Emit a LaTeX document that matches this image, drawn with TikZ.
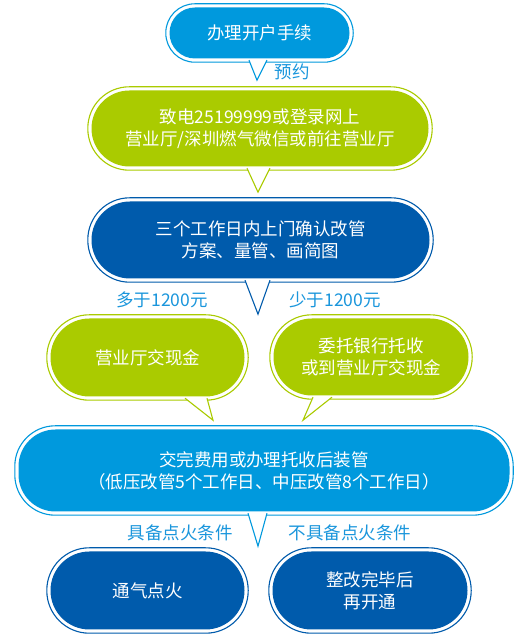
\documentclass[tikz,border=0pt]{standalone}
\usepackage{fontspec}
\newfontfamily\cjk{Noto Sans CJK SC}
\usetikzlibrary{calc,backgrounds}
\definecolor{sky}{HTML}{0099DD}
\definecolor{lime}{HTML}{AACB00}
\definecolor{navy}{HTML}{005BAC}
\definecolor{tagblue}{HTML}{1A96DC}
\tikzset{
  bubble/.style={rectangle, align=center, text=white, inner sep=0pt,
    font=\cjk\fontsize{17.5}{22}\selectfont},
  shell/.style={line width=1.1pt, fill=white},
  tag/.style={text=tagblue, inner sep=0pt, font=\cjk\fontsize{17.5}{20}\selectfont}
}
% outer outline round a bubble node
\newcommand{\bubbleshell}[3]{%
  \draw[shell, draw=#2, rounded corners=#3] ($(#1.south west)+(-3.5,-3.5)$)
    rectangle ($(#1.north east)+(3.5,3.5)$);
}
% open tail under a bubble node
\newcommand{\bubbletail}[5]{%
  \filldraw[shell, draw=#2] ($(#1.south)+(#3,-1.5)$) -- ($(#1.south)+(#5)$)
    -- ($(#1.south)+(#4,-1.5)$);
}

\begin{document}
\begin{tikzpicture}[x=1pt,y=1pt]
  \useasboundingbox (0,0) rectangle (525,643);

  % Bubbles, top to bottom.
  \node[bubble, fill=sky, minimum width=180pt, minimum height=51pt, rounded corners=25.5pt]
    (apply) at (259.5,610) {办理开户手续};
  \node[bubble, fill=lime, minimum width=337pt, minimum height=76pt, rounded corners=38pt]
    (book) at (260,514.5) {致电25199999或登录网上\\营业厅/深圳燃气微信或前往营业厅};
  \node[bubble, fill=navy, minimum width=338pt, minimum height=77pt, rounded corners=38.5pt]
    (survey) at (260.5,403) {三个工作日内上门确认改管\\方案、量管、画简图};
  \node[bubble, fill=lime, minimum width=194pt, minimum height=78pt, rounded corners=39pt]
    (cash) at (147.5,285.5) {营业厅交现金};
  \node[bubble, fill=lime, minimum width=195pt, minimum height=77pt, rounded corners=38.5pt]
    (bank) at (371,286) {委托银行托收\\或到营业厅交现金};
  \node[bubble, fill=sky, minimum width=491pt, minimum height=82pt, rounded corners=37pt]
    (install) at (264,172.5) {交完费用或办理托收后装管\\（低压改管5个工作日、中压改管8个工作日）};
  \node[bubble, fill=navy, minimum width=194pt, minimum height=78pt, rounded corners=39pt]
    (ignite) at (147.5,52.5) {通气点火};
  \node[bubble, fill=navy, minimum width=195pt, minimum height=78pt, rounded corners=39pt]
    (rework) at (370,52.5) {整改完毕后\\再开通};

  % Branch labels.
  \node[tag] (booking) at (292,571) {预约};
  \node[tag] (more) at (162,343) {多于1200元};
  \node[tag] (less) at (335,343) {少于1200元};
  \node[tag] (ready) at (180,110) {具备点火条件};
  \node[tag] (notready) at (350,110) {不具备点火条件};

  % Outlines and tails behind the bubbles.
  \begin{scope}[on background layer]
    \fill[white] (0,0) rectangle (525,643);
    \bubbleshell{apply}{sky}{29pt}
    \bubbletail{apply}{sky}{-10.5}{7.5}{-2.5,-21.5}
    \bubbleshell{book}{lime}{41.5pt}
    \bubbletail{book}{lime}{-13}{10}{-2,-25.5}
    \bubbleshell{survey}{navy}{42pt}
    \bubbletail{survey}{navy}{-15.5}{9.5}{-2.5,-35.5}
    \bubbleshell{cash}{lime}{42.5pt}
    \bubbletail{cash}{lime}{37.5}{59.5}{65.5,-23.5}
    \bubbleshell{bank}{lime}{42pt}
    \bubbletail{bank}{lime}{-58}{-39}{-68,-24.5}
    \bubbleshell{install}{sky}{40.5pt}
    \bubbletail{install}{sky}{-16}{3}{-6,-34.5}
    \bubbleshell{ignite}{navy}{42.5pt}
    \bubbleshell{rework}{navy}{42.5pt}
  \end{scope}
\end{tikzpicture}
\end{document}
